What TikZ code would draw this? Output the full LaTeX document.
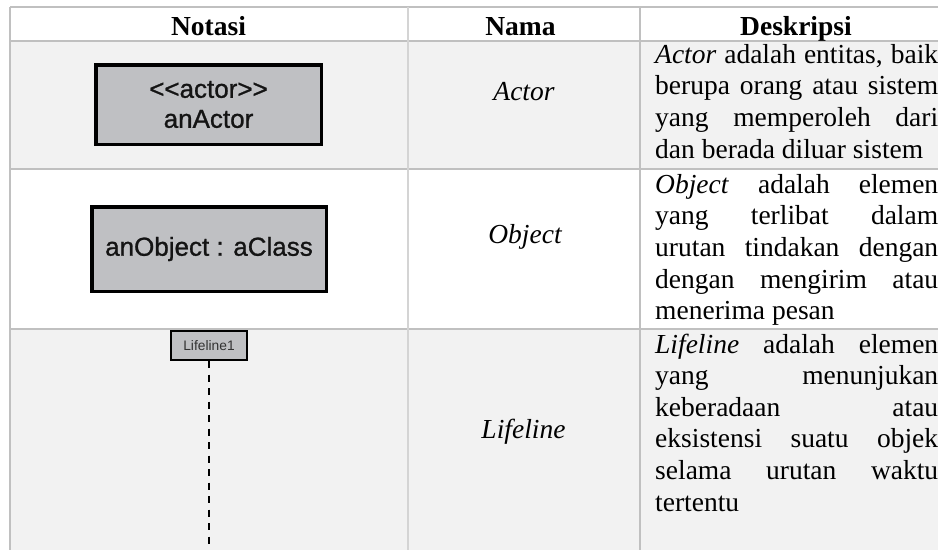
\documentclass[tikz,border=0pt]{standalone}
\usepackage{fontspec}
\setmainfont{Liberation Serif}
\newfontfamily\arialfont{Liberation Sans}
\newfontfamily\arialheavy[FakeBold=1]{Liberation Sans}
\definecolor{rowgray}{HTML}{F2F2F2}
\definecolor{gridgray}{HTML}{C0C0C0}
\definecolor{gridlight}{HTML}{D4D4D4}
\definecolor{boxfill}{HTML}{BFC0C3}
\definecolor{smalltext}{HTML}{333333}
\tikzset{
  tblrule/.style={draw=gridgray, line width=2pt},
  tblrulelight/.style={draw=gridlight, line width=2pt},
  hdtext/.style={anchor=base, inner sep=0pt, font=\fontsize{27.5pt}{31.7pt}\selectfont\bfseries},
  nmtext/.style={anchor=base, inner sep=0pt, font=\fontsize{27.5pt}{31.7pt}\selectfont\itshape},
  dsctext/.style={anchor=base west, inner sep=0pt, font=\fontsize{27.5pt}{31.7pt}\selectfont},
  umlbox/.style={draw=black, fill=boxfill, line width=3.5pt, inner sep=0pt,
    align=center, font=\arialheavy\fontsize{26pt}{30pt}\selectfont, text=black!92},
  lifebox/.style={draw=black, fill=boxfill, line width=2pt, inner sep=0pt,
    font=\arialfont\fontsize{13.8pt}{15pt}\selectfont, text=smalltext},
  lifedash/.style={draw=black, line width=2.7pt, dash pattern=on 7pt off 6.5pt}
}
\newcommand{\jline}[1]{\makebox[283pt][s]{#1}}
\begin{document}
\begin{tikzpicture}[x=1pt, y=-1pt]
  \useasboundingbox (0,0) rectangle (938,550);
  \fill[white] (0,0) rectangle (938,550);

  % row shading
  \fill[rowgray] (10,41) rectangle (938,169);
  \fill[rowgray] (10,329) rectangle (938,550);

  % table rules
  \foreach \yy in {7,41,169,329} \draw[tblrule] (10,\yy) -- (938,\yy);
  \draw[tblrule] (10,7) -- (10,550);
  \draw[tblrulelight] (408,7) -- (408,550);
  \draw[tblrule] (640,7) -- (640,550);

  % header
  \node[hdtext] (hNotasi) at (208.5,35) {Notasi};
  \node[hdtext] (hNama) at (520.5,35) {Nama};
  \node[hdtext] (hDesk) at (796,35) {Deskripsi};

  % notation column
  \node[umlbox, minimum width=225.5pt, minimum height=79.5pt] (actor) at (208.5,104.5)
    {<<actor>>\\anActor};
  \node[umlbox, minimum width=234.5pt, minimum height=84.5pt] (object) at (209,249)
    {anObject : aClass};
  \node[lifebox, minimum width=76pt, minimum height=29pt] (life) at (209,345.5)
    {Lifeline1};
  \coordinate (lifeEnd) at (209,550);
  \draw[lifedash] (life.south) -- (lifeEnd);

  % name column
  \node[nmtext] (nActor) at (524,100) {Actor};
  \node[nmtext] (nObject) at (525,243) {Object};
  \node[nmtext] (nLife) at (523.5,438) {Lifeline};

  % description column: Actor
  \node[dsctext] (dA1) at (655,63) {\jline{\textit{Actor} adalah entitas, baik}};
  \node[dsctext] (dA2) at (655,94.7) {\jline{berupa orang atau sistem}};
  \node[dsctext] (dA3) at (655,126.4) {\jline{yang memperoleh dari}};
  \node[dsctext] (dA4) at (655,158) {dan berada diluar sistem};

  % description column: Object
  \node[dsctext] (dO1) at (655,193) {\jline{\textit{Object} adalah elemen}};
  \node[dsctext] (dO2) at (655,224.7) {\jline{yang terlibat dalam}};
  \node[dsctext] (dO3) at (655,256.4) {\jline{urutan tindakan dengan}};
  \node[dsctext] (dO4) at (655,288) {\jline{dengan mengirim atau}};
  \node[dsctext] (dO5) at (655,319.5) {menerima pesan};

  % description column: Lifeline
  \node[dsctext] (dL1) at (655,353) {\jline{\textit{Lifeline} adalah elemen}};
  \node[dsctext] (dL2) at (655,384.6) {\jline{yang menunjukan}};
  \node[dsctext] (dL3) at (655,416.2) {\jline{keberadaan atau}};
  \node[dsctext] (dL4) at (655,447.8) {\jline{eksistensi suatu objek}};
  \node[dsctext] (dL5) at (655,479.4) {\jline{selama urutan waktu}};
  \node[dsctext] (dL6) at (655,511) {tertentu};
\end{tikzpicture}
\end{document}
